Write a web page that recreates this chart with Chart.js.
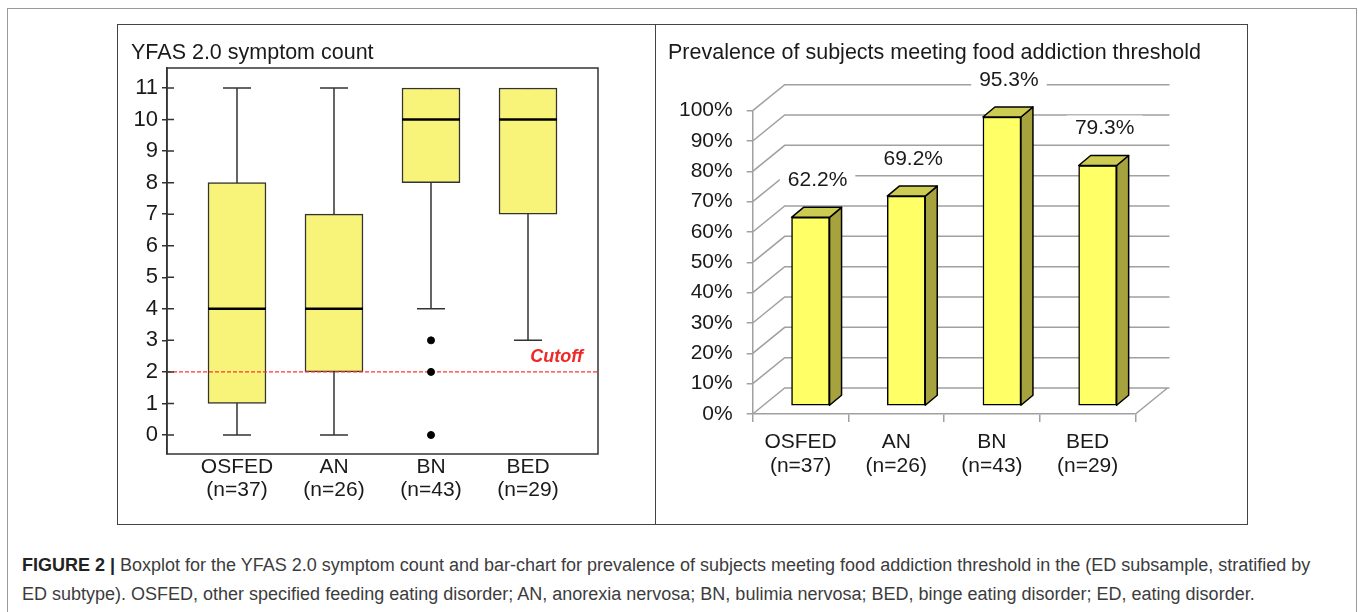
<!DOCTYPE html>
<html>
<head>
<meta charset="utf-8">
<script src="https://cdn.jsdelivr.net/npm/chart.js@4.4.1/dist/chart.umd.min.js"></script>
<style>
    body { margin: 0; width: 1358px; height: 612px; position: relative; overflow: hidden; background: #fff;
           font-family: 'Liberation Sans', Arial, sans-serif; color: #1a1a1a; }
    #outer { position: absolute; left: 7px; top: 8px; width: 1348px; height: 640px; border: 1px solid #9a9a9a; }
    #figure { position: absolute; left: 117px; top: 24px; width: 1129px; height: 499px; border: 1px solid #444; }
    #divider { position: absolute; left: 655px; top: 24px; width: 1px; height: 500px; background: #444; }
    canvas { position: absolute; }
    #boxChart { left: 118px; top: 25px; }
    #barChart { left: 656px; top: 25px; }
    .ptitle { position: absolute; font-size: 21.5px; white-space: nowrap; line-height: 24px; }
    .caption { position: absolute; left: 22px; font-size: 18px; color: #3c3c3c; white-space: nowrap; line-height: 20px; }
    .caption b { color: #222; }
</style>
</head>
<body>
<div id="outer"></div>
<div id="figure"></div>
<div id="divider"></div>
<canvas id="boxChart" width="536" height="498"></canvas>
<canvas id="barChart" width="590" height="498"></canvas>
<div class="ptitle" style="left:131px; top:40px;">YFAS 2.0 symptom count</div>
<div class="ptitle" style="left:668px; top:40px;">Prevalence of subjects meeting food addiction threshold</div>
<div class="caption" style="top:555px;"><b>FIGURE 2 |</b> Boxplot for the YFAS 2.0 symptom count and bar-chart for prevalence of subjects meeting food addiction threshold in the (ED subsample, stratified by</div>
<div class="caption" style="top:584px;">ED subtype). OSFED, other specified feeding eating disorder; AN, anorexia nervosa; BN, bulimia nervosa; BED, binge eating disorder; ED, eating disorder.</div>

<script>
// === Data ===
const groups = ['OSFED', 'AN', 'BN', 'BED'];
const groupN = ['(n=37)', '(n=26)', '(n=43)', '(n=29)'];

// boxplot: YFAS 2.0 symptom count
const whiskerLow = [0, 0, 4, 3];
const q1 = [1, 2, 8, 7];
const median = [4, 4, 10, 10];
const q3 = [8, 7, 11, 11];
const whiskerHigh = [11, 11, 11, 11];
const outlierGroup = [2, 2, 2];
const outlierValue = [3, 2, 0];
const cutoff = 2;
const symptomTicks = [0, 1, 2, 3, 4, 5, 6, 7, 8, 9, 10, 11];

// bar chart: % meeting food addiction threshold
const prevalence = [62.2, 69.2, 95.3, 79.3];
const prevalenceTicks = [0, 10, 20, 30, 40, 50, 60, 70, 80, 90, 100];

Chart.defaults.font.family = "'Liberation Sans', Arial, sans-serif";
Chart.defaults.color = '#1a1a1a';

// === Chart 1: boxplot ===
const boxPlugin = {
    id: 'boxParts',
    beforeDatasetDraw(chart, args) {
        if (args.index !== 0) return;
        const { ctx, scales: { x, y } } = chart;
        ctx.save();
        ctx.strokeStyle = '#333';
        ctx.lineWidth = 1.5;
        groups.forEach((g, i) => {
            const cx = x.getPixelForValue(i);
            ctx.beginPath();
            ctx.moveTo(cx, y.getPixelForValue(whiskerLow[i]));
            ctx.lineTo(cx, y.getPixelForValue(whiskerHigh[i]));
            if (whiskerLow[i] < q1[i]) {
                ctx.moveTo(cx - 14, y.getPixelForValue(whiskerLow[i]));
                ctx.lineTo(cx + 14, y.getPixelForValue(whiskerLow[i]));
            }
            if (whiskerHigh[i] > q3[i]) {
                ctx.moveTo(cx - 14, y.getPixelForValue(whiskerHigh[i]));
                ctx.lineTo(cx + 14, y.getPixelForValue(whiskerHigh[i]));
            }
            ctx.stroke();
        });
        ctx.restore();
    },
    afterDatasetDraw(chart, args) {
        if (args.index !== 0) return;
        const { ctx, chartArea, scales: { x, y } } = chart;
        ctx.save();
        // medians
        ctx.strokeStyle = '#000';
        ctx.lineWidth = 2.5;
        groups.forEach((g, i) => {
            const cx = x.getPixelForValue(i);
            const my = y.getPixelForValue(median[i]);
            ctx.beginPath();
            ctx.moveTo(cx - 29, my);
            ctx.lineTo(cx + 29, my);
            ctx.stroke();
        });
        // cutoff line
        const cy = y.getPixelForValue(cutoff);
        ctx.strokeStyle = '#ff3333';
        ctx.lineWidth = 1.2;
        ctx.setLineDash([4, 2]);
        ctx.beginPath();
        ctx.moveTo(chartArea.left, cy);
        ctx.lineTo(chartArea.right, cy);
        ctx.stroke();
        ctx.setLineDash([]);
        ctx.fillStyle = '#f02828';
        ctx.font = "italic bold 18px 'Liberation Sans', Arial, sans-serif";
        ctx.textAlign = 'right';
        ctx.textBaseline = 'middle';
        ctx.fillText('Cutoff', chartArea.right - 15, cy - 15);
        ctx.restore();
    },
    afterDraw(chart) {
        const { ctx, chartArea, scales: { y } } = chart;
        ctx.save();
        ctx.strokeStyle = '#333';
        ctx.lineWidth = 1.5;
        ctx.strokeRect(chartArea.left, chartArea.top, chartArea.right - chartArea.left, chartArea.bottom - chartArea.top);
        // tick stubs reaching inside the frame
        ctx.beginPath();
        symptomTicks.forEach(v => {
            const ty = y.getPixelForValue(v);
            ctx.moveTo(chartArea.left, ty);
            ctx.lineTo(chartArea.left + 7, ty);
        });
        ctx.stroke();
        ctx.restore();
    }
};

new Chart(document.getElementById('boxChart'), {
    type: 'bar',
    data: {
        datasets: [{
            label: 'IQR',
            data: groups.map((g, i) => ({ x: i, y: [q1[i], q3[i]] })),
            backgroundColor: '#f8f47a',
            borderColor: '#333',
            borderWidth: 1.5,
            borderSkipped: false,
            barThickness: 58,
            order: 1
        }, {
            type: 'scatter',
            label: 'Outliers',
            data: outlierValue.map((v, i) => ({ x: outlierGroup[i], y: v })),
            backgroundColor: '#000',
            borderColor: '#000',
            pointRadius: 3.5,
            order: 0
        }]
    },
    options: {
        responsive: false,
        animation: false,
        devicePixelRatio: 1,
        layout: { padding: { top: 43, right: 56, left: 0, bottom: 0 } },
        plugins: { legend: { display: false }, tooltip: { enabled: false }, title: { display: false } },
        scales: {
            x: {
                type: 'linear',
                min: -0.7216,
                max: 3.7216,
                offset: false,
                afterBuildTicks: s => { s.ticks = groups.map((g, i) => ({ value: i })); },
                afterFit: s => { s.height = 69; },
                grid: { display: false, drawTicks: false },
                border: { display: false },
                ticks: {
                    padding: 2,
                    color: '#1a1a1a',
                    font: { size: 21, lineHeight: 1.1 },
                    maxRotation: 0,
                    callback: v => [groups[v], groupN[v]]
                }
            },
            y: {
                min: -0.602,
                max: 11.634,
                afterBuildTicks: s => { s.ticks = symptomTicks.map(v => ({ value: v })); },
                afterFit: s => { s.width = 49; },
                grid: { drawOnChartArea: false, tickLength: 5, color: '#333', lineWidth: 1.5 },
                border: { display: true, color: '#333', width: 1.5 },
                ticks: { padding: 4, color: '#1a1a1a', font: { size: 22 } }
            }
        }
    },
    plugins: [boxPlugin]
});

// === Chart 2: 3D style column chart ===
const DEPTH_X = 32, DEPTH_Y = -26;   // back wall offset
const BAR_X = 10, BAR_Y = -8;        // bar front face offset
const SIDE_X = 12, SIDE_Y = -10;     // bar depth

const wallPlugin = {
    id: 'wall3d',
    beforeDatasetsDraw(chart) {
        const { ctx, chartArea, scales: { y } } = chart;
        ctx.save();
        ctx.strokeStyle = '#a0a0a0';
        ctx.lineWidth = 1.5;
        ctx.beginPath();
        prevalenceTicks.forEach(v => {
            const py = y.getPixelForValue(v);
            // left wall diagonal
            ctx.moveTo(chartArea.left, py);
            ctx.lineTo(chartArea.left + DEPTH_X, py + DEPTH_Y);
            // back wall line
            ctx.lineTo(chartArea.right + DEPTH_X + 2, py + DEPTH_Y);
        });
        // floor right edge
        const by = y.getPixelForValue(0);
        ctx.moveTo(chartArea.right, by);
        ctx.lineTo(chartArea.right + DEPTH_X, by + DEPTH_Y);
        ctx.stroke();
        ctx.restore();
        ctx.save();
        ctx.translate(BAR_X, BAR_Y);
    },
    afterDatasetsDraw(chart) {
        const { ctx } = chart;
        ctx.restore();
        const meta = chart.getDatasetMeta(0);
        ctx.save();
        ctx.strokeStyle = '#000';
        ctx.lineWidth = 1.5;
        ctx.lineJoin = 'round';
        meta.data.forEach((bar, i) => {
            const p = bar.getProps(['x', 'y', 'base', 'width'], true);
            const l = p.x - p.width / 2 + BAR_X, r = p.x + p.width / 2 + BAR_X;
            const t = p.y + BAR_Y, b = p.base + BAR_Y;
            // side face
            ctx.fillStyle = '#a6a23e';
            ctx.beginPath();
            ctx.moveTo(r, t); ctx.lineTo(r + SIDE_X, t + SIDE_Y);
            ctx.lineTo(r + SIDE_X, b + SIDE_Y); ctx.lineTo(r, b); ctx.closePath();
            ctx.fill(); ctx.stroke();
            // top face
            ctx.fillStyle = '#cccc52';
            ctx.beginPath();
            ctx.moveTo(l, t); ctx.lineTo(l + SIDE_X, t + SIDE_Y);
            ctx.lineTo(r + SIDE_X, t + SIDE_Y); ctx.lineTo(r, t); ctx.closePath();
            ctx.fill(); ctx.stroke();
        });
        // value labels on white background
        ctx.font = "21px 'Liberation Sans', Arial, sans-serif";
        ctx.textAlign = 'center';
        ctx.textBaseline = 'middle';
        meta.data.forEach((bar, i) => {
            const txt = prevalence[i].toFixed(1) + '%';
            const lx = bar.x + BAR_X + 7, ly = bar.y + BAR_Y - 38;
            const w = ctx.measureText(txt).width + 16;
            ctx.fillStyle = '#fff';
            ctx.fillRect(lx - w / 2, ly - 12, w, 24);
            ctx.fillStyle = '#1a1a1a';
            ctx.fillText(txt, lx, ly + 1);
        });
        ctx.restore();
    }
};

new Chart(document.getElementById('barChart'), {
    type: 'bar',
    data: {
        labels: groups.map((g, i) => [g, groupN[i]]),
        datasets: [{
            label: 'Prevalence',
            data: prevalence,
            backgroundColor: '#ffff66',
            borderColor: '#000',
            borderWidth: 1.5,
            borderSkipped: false,
            barThickness: 38,
            clip: false
        }]
    },
    options: {
        responsive: false,
        animation: false,
        devicePixelRatio: 1,
        layout: { padding: { top: 85.7, right: 110.5, left: 0, bottom: 0 } },
        plugins: { legend: { display: false }, tooltip: { enabled: false }, title: { display: false } },
        scales: {
            x: {
                afterFit: s => { s.height = 109; },
                grid: { drawOnChartArea: false, offset: true, tickLength: 8, color: '#a0a0a0', lineWidth: 1.5 },
                border: { display: true, color: '#a0a0a0', width: 1.5 },
                ticks: { padding: 8, color: '#1a1a1a', font: { size: 21, lineHeight: 1.15 }, maxRotation: 0 }
            },
            y: {
                min: 0,
                max: 100,
                afterBuildTicks: s => { s.ticks = prevalenceTicks.map(v => ({ value: v })); },
                afterFit: s => { s.width = 96.7; },
                grid: { drawOnChartArea: false, tickLength: 6, color: '#a0a0a0', lineWidth: 1.5 },
                border: { display: true, color: '#a0a0a0', width: 1.5 },
                ticks: { padding: 14, color: '#1a1a1a', font: { size: 21 }, callback: v => v + '%' }
            }
        }
    },
    plugins: [wallPlugin]
});
</script>
</body>
</html>
